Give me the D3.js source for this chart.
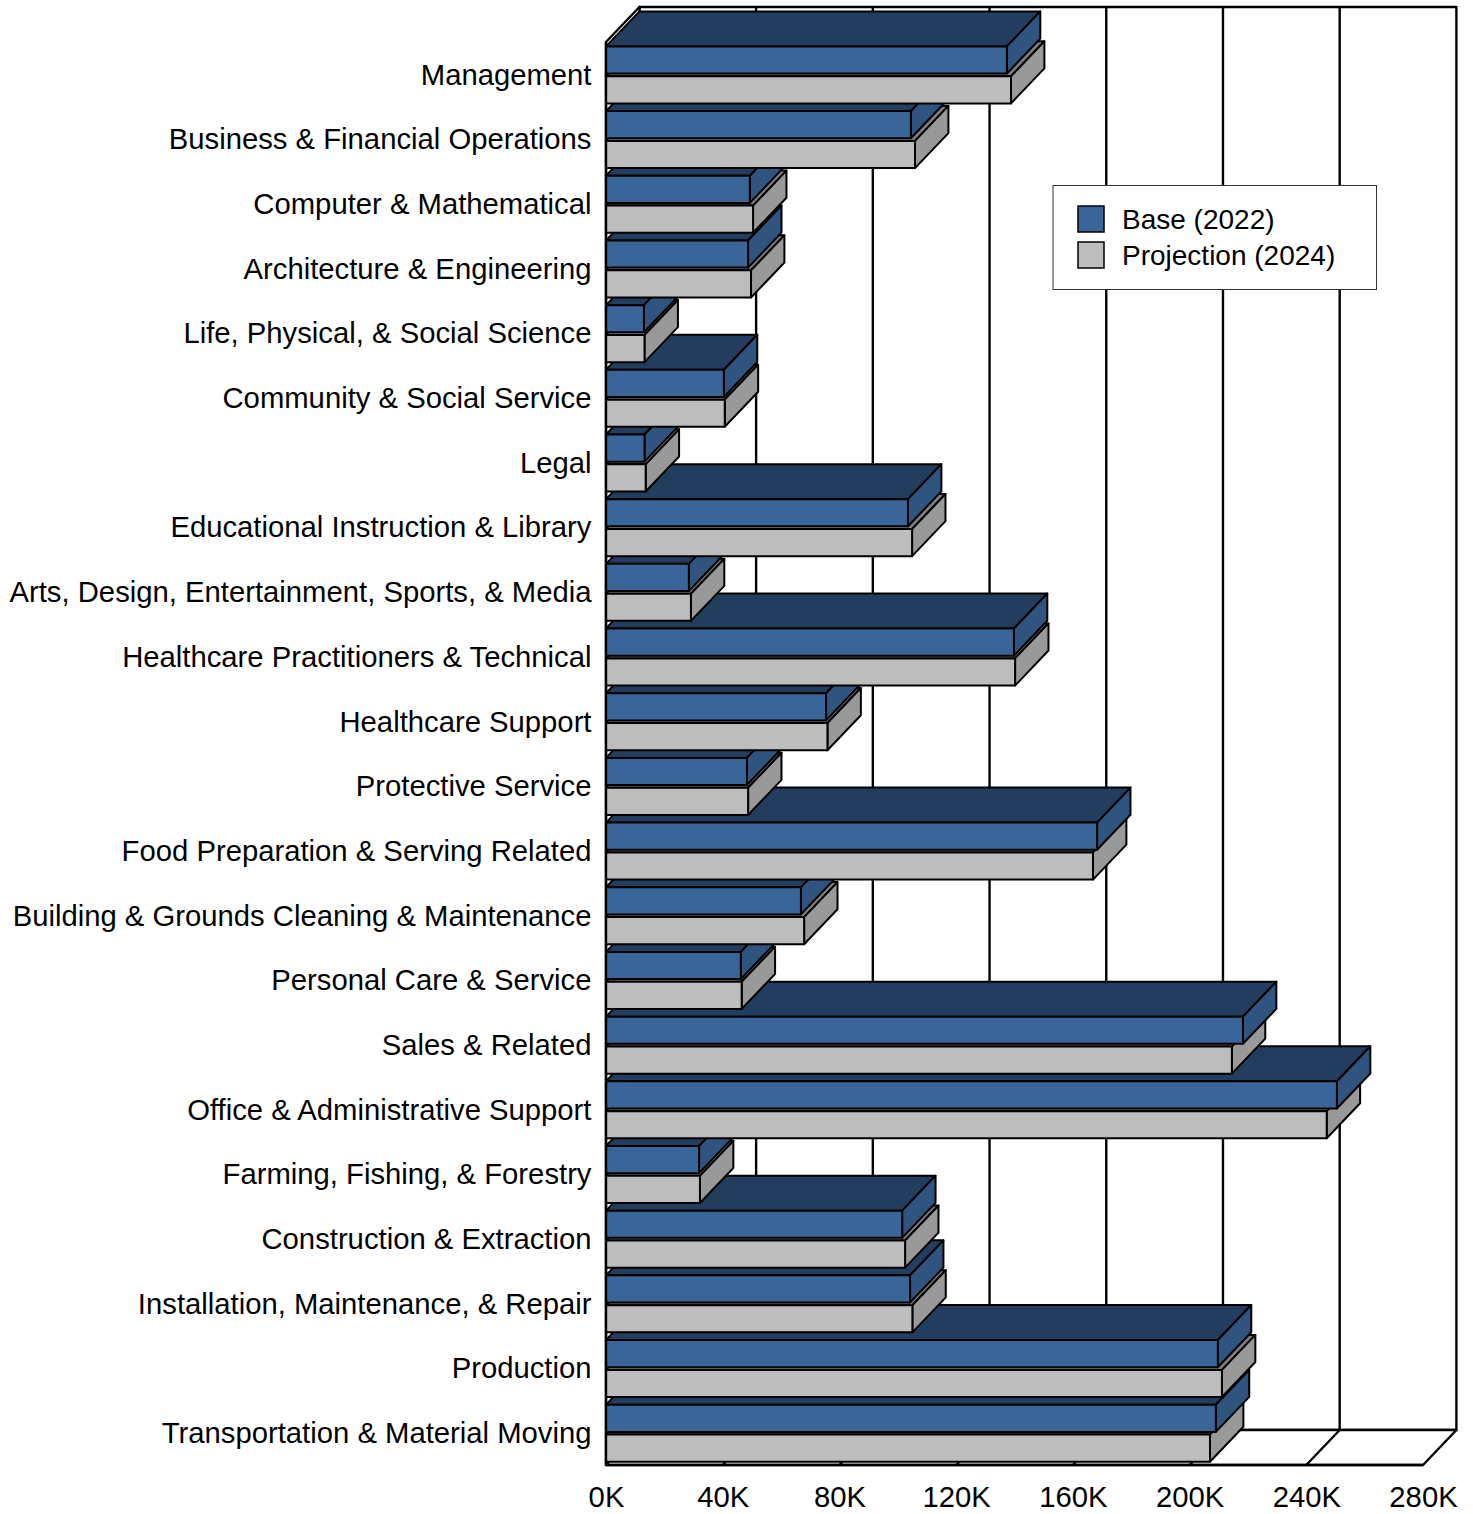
<!DOCTYPE html>
<html>
<head>
<meta charset="utf-8">
<script src="https://d3js.org/d3.v7.min.js"></script>
<style>
  body { margin: 0; background: #fff; }
  text { font-family: "Liberation Sans", Arial, sans-serif; fill: #000; }
</style>
</head>
<body>
<div id="chart"></div>
<script>
// occupation groups, top to bottom
var categories = [
    "Management", "Business & Financial Operations", "Computer & Mathematical",
    "Architecture & Engineering", "Life, Physical, & Social Science",
    "Community & Social Service", "Legal", "Educational Instruction & Library",
    "Arts, Design, Entertainment, Sports, & Media", "Healthcare Practitioners & Technical",
    "Healthcare Support", "Protective Service", "Food Preparation & Serving Related",
    "Building & Grounds Cleaning & Maintenance", "Personal Care & Service",
    "Sales & Related", "Office & Administrative Support", "Farming, Fishing, & Forestry",
    "Construction & Extraction", "Installation, Maintenance, & Repair",
    "Production", "Transportation & Material Moving"
];

// values in thousands
var base2022 = [137.4, 104.5, 49.3, 48.7, 13.0, 40.4, 13.2, 103.5, 28.4, 139.8, 75.4,
    48.3, 168.3, 66.8, 46.2, 218.3, 250.5, 31.9, 101.5, 104.2, 209.7, 209];
var proj2024 = [138.8, 105.9, 50.4, 49.7, 13.2, 40.7, 13.6, 104.9, 29.1, 140.2, 75.9,
    48.7, 166.9, 67.9, 46.5, 214.5, 247.0, 32.2, 102.5, 105, 211.1, 207];

var seriesNames = ["Base (2022)", "Projection (2024)"];
var xTicks = [0, 40, 80, 120, 160, 200, 240, 280];

var svgWidth = 1473;
var svgHeight = 1514;

// front plane of the chart and the 3d depth offset
var left = 606, right = 1423, top_ = 42, bottom = 1465;
var depthX = 33.4, depthY = 35;

var svg = d3.select("#chart").append("svg")
    .attr("width", svgWidth)
    .attr("height", svgHeight)
    .style("display", "block");

var x = d3.scaleLinear().domain([0, 280]).range([left, right]);
var y = d3.scaleBand().domain(categories).range([top_, bottom]);
var ySeries = d3.scaleBand().domain(seriesNames).range([4.4, 61.4]).paddingInner(0.09);

var colors = {
    "Base (2022)": { front: "#3A6599", top: "#223D5E", side: "#2F5480" },
    "Projection (2024)": { front: "#BDBDBD", top: "#7F7F7F", side: "#999999" }
};

function poly(g, pts, fill, sw) {
    g.append("polygon")
        .attr("points", pts.map(function (p) { return p.join(","); }).join(" "))
        .attr("fill", fill)
        .attr("stroke", "#000")
        .attr("stroke-width", sw)
        .attr("stroke-linejoin", "round");
}

function line(g, x1, y1, x2, y2, sw) {
    g.append("line")
        .attr("x1", x1).attr("y1", y1).attr("x2", x2).attr("y2", y2)
        .attr("stroke", "#000").attr("stroke-width", sw);
}

// walls and floor
var wall = svg.append("g");
poly(wall, [[left + depthX, top_ - depthY], [right + depthX, top_ - depthY],
    [right + depthX, bottom - depthY], [left + depthX, bottom - depthY]], "#fff", 2.4);
poly(wall, [[left, top_], [left + depthX, top_ - depthY],
    [left + depthX, bottom - depthY], [left, bottom]], "#fff", 2.4);
poly(wall, [[left, bottom], [left + depthX, bottom - depthY],
    [right + depthX, bottom - depthY], [right, bottom]], "#fff", 2.4);

xTicks.slice(1, -1).forEach(function (t) {
    line(wall, x(t) + depthX, top_ - depthY, x(t) + depthX, bottom - depthY, 2.4);
    line(wall, x(t), bottom, x(t) + depthX, bottom - depthY, 2.4);
});

// bars go bottom category first, so the upper ones overlap the lower tops
var bars = svg.append("g");
d3.range(categories.length).reverse().forEach(function (i) {
    [[seriesNames[1], proj2024[i]], [seriesNames[0], base2022[i]]].forEach(function (s) {
        var c = colors[s[0]];
        var x0 = x(0), x1 = x(s[1]);
        var y0 = y(categories[i]) + ySeries(s[0]);
        var y1 = y0 + ySeries.bandwidth();
        poly(bars, [[x0, y0], [x0 + depthX, y0 - depthY], [x1 + depthX, y0 - depthY], [x1, y0]], c.top, 2);
        poly(bars, [[x1, y0], [x1 + depthX, y0 - depthY], [x1 + depthX, y1 - depthY], [x1, y1]], c.side, 2);
        poly(bars, [[x0, y0], [x1, y0], [x1, y1], [x0, y1]], c.front, 2);
    });
});

// front left edge stays on top of the bars
line(svg, left, top_, left, bottom, 2.4);
line(svg, left, bottom, right, bottom, 2.4);

// category labels
svg.append("g")
    .attr("transform", "translate(" + (left - 14.5) + ",1)")
    .call(d3.axisLeft(y).tickSize(0).tickPadding(0))
    .call(function (g) { g.select(".domain").remove(); })
    .selectAll("text")
    .style("font-size", "29.25px")
    .style("font-family", "'Liberation Sans', Arial, sans-serif");

// value labels
svg.append("g")
    .attr("transform", "translate(0," + bottom + ")")
    .call(d3.axisBottom(x).tickValues(xTicks).tickSize(0).tickPadding(21)
        .tickFormat(function (d) { return d + "K"; }))
    .call(function (g) { g.select(".domain").remove(); })
    .selectAll("text")
    .style("font-size", "29.25px")
    .style("font-family", "'Liberation Sans', Arial, sans-serif");

// legend
var legend = svg.append("g");
legend.append("rect")
    .attr("x", 1053).attr("y", 185.5).attr("width", 323.5).attr("height", 104)
    .attr("fill", "#fff").attr("stroke", "#333").attr("stroke-width", 1);

var legendRow = d3.scalePoint().domain(seriesNames).range([206, 242]);
seriesNames.forEach(function (name) {
    legend.append("rect")
        .attr("x", 1078).attr("y", legendRow(name))
        .attr("width", 26).attr("height", 26)
        .attr("fill", colors[name].front)
        .attr("stroke", "#000").attr("stroke-width", 1.5);
    legend.append("text")
        .attr("x", 1122).attr("y", legendRow(name) + 23)
        .style("font-size", "28px")
        .text(name);
});
</script>
</body>
</html>
